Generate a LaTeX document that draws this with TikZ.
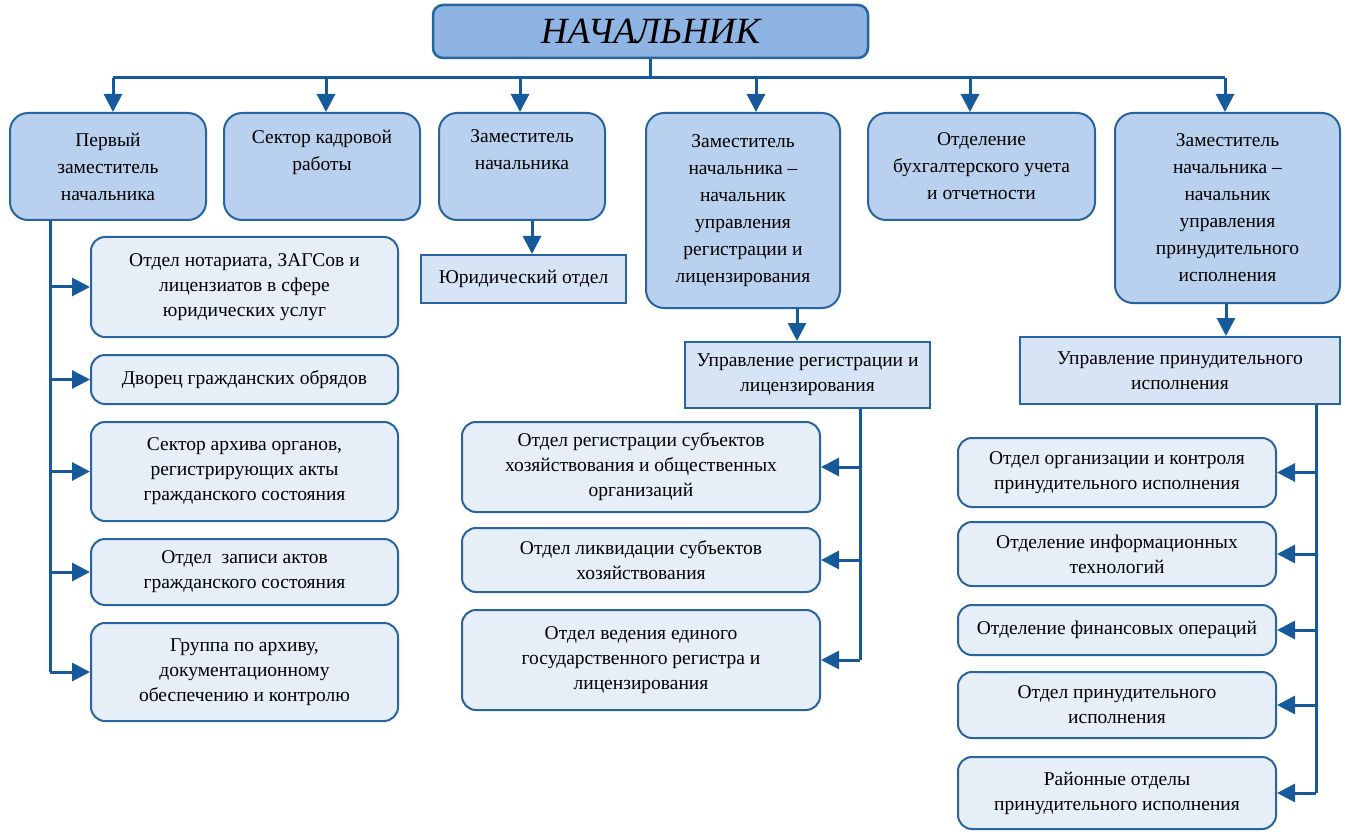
\documentclass[tikz,border=0pt]{standalone}
\usepackage{fontspec}
\setmainfont{Liberation Serif}
\usetikzlibrary{arrows.meta}
\definecolor{edgeblue}{RGB}{40,100,160}
\definecolor{lineblue}{RGB}{22,90,155}
\definecolor{bossfill}{RGB}{141,180,226}
\definecolor{headfill}{RGB}{185,209,238}
\definecolor{deptfill}{RGB}{230,238,248}
\definecolor{unitfill}{RGB}{214,228,245}
\begin{document}
\begin{tikzpicture}[x=1pt,y=-1pt,
  box/.style={draw=edgeblue,line width=2pt,align=center,inner sep=2pt,
    font=\fontsize{19.5}{27}\selectfont},
  boss/.style={box,rounded corners=10pt,fill=bossfill,line width=2.5pt,
    font=\fontsize{37}{40}\selectfont\itshape},
  head/.style={box,rounded corners=18pt,fill=headfill},
  dept/.style={box,rounded corners=14pt,fill=deptfill,font=\fontsize{19.5}{25}\selectfont},
  unit/.style={box,fill=unitfill,font=\fontsize{19.5}{25}\selectfont},
  conn/.style={draw=lineblue,line width=3pt},
  arr/.style={conn,-{Triangle[length=18pt,width=18pt]}}]
\useasboundingbox (0,0) rectangle (1350,837);
% top
\node[boss,minimum width=435pt,minimum height=53pt] (boss) at (650.5,31.5) {НАЧАЛЬНИК};
% first level
\node[head,minimum width=196pt,minimum height=107pt] (b1) at (108,166.5) {Первый\\заместитель\\начальника};
\node[head,minimum width=196pt,minimum height=107pt,text depth=33pt] (b2) at (322,166.5) {Сектор кадровой\\работы};
\node[head,minimum width=166pt,minimum height=107pt,text depth=33pt] (b3) at (522,166.5) {Заместитель\\начальника};
\node[head,minimum width=194pt,minimum height=195pt] (b4) at (743,210.5) {Заместитель\\начальника –\\начальник\\управления\\регистрации и\\лицензирования};
\node[head,minimum width=227pt,minimum height=107pt] (b5) at (981.5,166.5) {Отделение\\бухгалтерского учета\\и отчетности};
\node[head,minimum width=225pt,minimum height=190pt] (b6) at (1227.5,208) {Заместитель\\начальника –\\начальник\\управления\\принудительного\\исполнения};
% second level
\node[unit,minimum width=205pt,minimum height=48pt] (jur) at (523.5,279) {Юридический отдел};
\node[unit,minimum width=245pt,minimum height=66pt] (ureg) at (807.5,375) {Управление регистрации и\\лицензирования};
\node[unit,minimum width=320pt,minimum height=67pt] (upri) at (1180,370.5) {Управление принудительного\\исполнения};
% left column
\node[dept,minimum width=307pt,minimum height=100pt] (a1) at (244.5,287) {Отдел нотариата, ЗАГСов и\\лицензиатов в сфере\\юридических услуг};
\node[dept,minimum width=307pt,minimum height=49pt] (a2) at (244.5,379.5) {Дворец гражданских обрядов};
\node[dept,minimum width=307pt,minimum height=99pt] (a3) at (244.5,471.5) {Сектор архива органов,\\регистрирующих акты\\гражданского состояния};
\node[dept,minimum width=307pt,minimum height=66pt] (a4) at (244.5,572) {Отдел\ \ записи актов\\гражданского состояния};
\node[dept,minimum width=307pt,minimum height=98pt] (a5) at (244.5,672) {Группа по архиву,\\документационному\\обеспечению и контролю};
% middle column
\node[dept,minimum width=358pt,minimum height=90pt] (m1) at (641,467) {Отдел регистрации субъектов\\хозяйствования и общественных\\организаций};
\node[dept,minimum width=358pt,minimum height=64pt] (m2) at (641,560) {Отдел ликвидации субъектов\\хозяйствования};
\node[dept,minimum width=358pt,minimum height=100pt] (m3) at (641,660) {Отдел ведения единого\\государственного регистра и\\лицензирования};
% right column
\node[dept,minimum width=318pt,minimum height=69pt] (r1) at (1117,472.5) {Отдел организации и контроля\\принудительного исполнения};
\node[dept,minimum width=318pt,minimum height=64pt] (r2) at (1117,554) {Отделение информационных\\технологий};
\node[dept,minimum width=318pt,minimum height=50pt] (r3) at (1117,630) {Отделение финансовых операций};
\node[dept,minimum width=318pt,minimum height=66pt] (r4) at (1117,705) {Отдел принудительного\\исполнения};
\node[dept,minimum width=318pt,minimum height=72pt] (r5) at (1117,793) {Районные отделы\\принудительного исполнения};
% bus
\foreach \i/\x in {1/113,2/326,3/520,4/756,5/970,6/1225}{ \coordinate (t\i) at (\x,78); }
\draw[conn] (boss.south) -- (boss.south |- t1);
\draw[conn] (t1) -- (t6);
\foreach \i in {1,...,6}{ \draw[arr] (t\i) -- (t\i |- b\i.north); }
% drops
\coordinate (x3) at (532,0);
\coordinate (x4) at (797,0);
\coordinate (x6) at (1226,0);
\draw[arr] (b3.south -| x3) -- (jur.north -| x3);
\draw[arr] (b4.south -| x4) -- (ureg.north -| x4);
\draw[arr] (b6.south -| x6) -- (upri.north -| x6);
% spines
\coordinate (s1) at (50,0);
\coordinate (s2) at (860,0);
\coordinate (s3) at (1316,0);
\draw[conn] (b1.south -| s1) -- (s1 |- a5.west);
\foreach \n in {a1,a2,a3,a4,a5}{ \draw[arr] (s1 |- \n.west) -- (\n.west); }
\draw[conn] (ureg.south -| s2) -- (s2 |- m3.east);
\foreach \n in {m1,m2,m3}{ \draw[arr] (s2 |- \n.east) -- (\n.east); }
\draw[conn] (upri.south -| s3) -- (s3 |- r5.east);
\foreach \n in {r1,r2,r3,r4,r5}{ \draw[arr] (s3 |- \n.east) -- (\n.east); }
\end{tikzpicture}
\end{document}
